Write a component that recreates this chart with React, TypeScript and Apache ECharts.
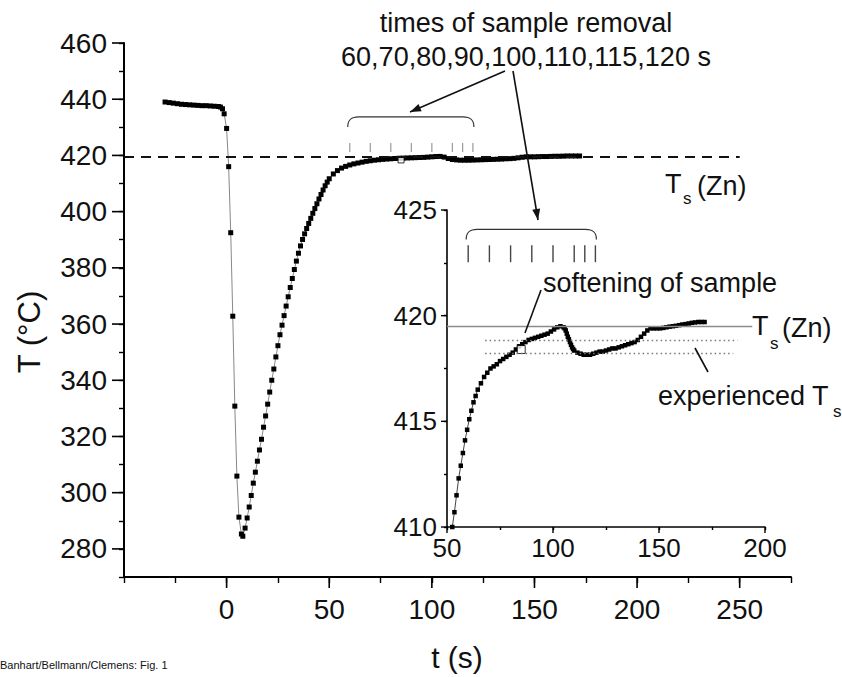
import React, { useEffect, useRef } from "react";
import * as echarts from "echarts";

const FONT = '"Liberation Sans", Arial, Helvetica, sans-serif';
const INK = "#111";

// solidus of zinc (°C)
const TS_ZN = 419.5;
// times of sample removal (s)
const removalTimes = [60, 70, 80, 90, 100, 110, 115, 120];
// "experienced Ts" band (°C) and its time spans (s)
const experiencedTs = [418.85, 418.2];
const experiencedStart = [68, 68];
const experiencedEnd = [187, 185];
// softening of sample
const softeningTime = [85];
const softeningTemp = [418.4];

// tick labels
const mainXLabels = [0, 50, 100, 150, 200, 250];
const mainYLabels = [280, 300, 320, 340, 360, 380, 400, 420, 440, 460];
const insetXLabels = [50, 100, 150, 200];
const insetYLabels = [410, 415, 420, 425];

// main curve: time (s)
const mainTime = [
  -30, -28, -26, -24, -22, -20, -18, -16, -14, -12, -10, -8, -6, -4, -3, -2, -1.2,
  0, 1, 2, 3, 4, 5, 6, 7.2, 7.9,
  9, 10, 11, 12, 13, 14, 15, 16, 17, 18, 19, 20, 21, 22, 23, 24, 25, 26,
  27, 28, 29, 30, 31, 32, 33, 34, 35, 36, 37, 38, 39, 40, 41, 42, 43, 44, 45, 46, 47, 48, 49, 50,
  52, 54, 56, 58, 60, 62, 64, 66, 68, 70, 72, 74, 76, 78, 80, 82, 84, 86, 88, 90,
  92, 94, 96, 98, 100, 102, 104, 106, 108, 110, 112, 114, 116, 118, 120, 122, 124, 126, 128, 130,
  132, 134, 136, 138, 140, 142, 144, 146, 148, 150, 152, 154, 156, 158, 160, 162, 164, 166, 168, 170, 172,
];
// main curve: temperature (°C)
const mainTemp = [
  439.0, 438.8, 438.6, 438.4, 438.2, 438.1, 438.0, 437.9, 437.8, 437.7, 437.7, 437.6, 437.5, 437.4, 437.2, 436.6, 434.8,
  429.6, 416.0, 392.5, 362.8, 330.8, 305.9, 291.3, 285.3, 284.5,
  287.4, 291.0, 294.9, 299.0, 303.4, 307.3, 311.2, 315.2, 319.0, 323.3, 327.3, 331.5, 335.8, 340.0, 344.0, 348.3, 352.3, 356.2,
  359.6, 363.0, 366.4, 369.7, 373.0, 376.2, 379.4, 382.4, 385.2, 387.8, 390.1, 392.1, 394.0, 395.8, 397.6, 399.4, 401.1, 402.8, 404.5, 406.1, 407.7, 409.2, 410.5, 411.7,
  413.4, 414.6, 415.5, 416.1, 416.6, 417.0, 417.3, 417.6, 417.9, 418.1, 418.3, 418.45, 418.6, 418.7, 418.8, 418.9, 419.0, 419.05, 419.1, 419.15,
  419.2, 419.25, 419.3, 419.4, 419.5, 419.6, 419.65, 419.4, 418.9, 418.55, 418.4, 418.3, 418.3, 418.3, 418.35, 418.4, 418.45, 418.5, 418.55, 418.6,
  418.65, 418.7, 418.8, 418.85, 418.95, 419.15, 419.35, 419.5, 419.5, 419.5, 419.55, 419.6, 419.6, 419.65, 419.7, 419.7, 419.75, 419.8, 419.8, 419.8, 419.8,
];

// inset curve: time (s)
const insetTime = [
  52.5, 53.5, 54.5, 55.5, 56.5, 57.5, 58.5, 59.5, 60.5, 61.5, 62.5, 63.5, 64.5,
  66, 67.5, 69, 70.5, 72, 73.5, 75, 76.5, 78, 79.5, 81, 82.5, 84, 85.5, 87, 88.5, 90, 91.5, 93, 94.5, 96, 97.5, 99, 100.5, 102, 103.5,
  105, 105.5, 106, 106.5, 107, 107.5, 108, 108.5, 109, 109.5, 110,
  111.5, 113, 114.5, 116, 117.5, 119, 120.5, 122, 123.5, 125, 126.5, 128, 129.5, 131, 132.5, 134, 135.5, 137, 138.5, 140,
  141.5, 143, 144.5, 146, 147.5, 149, 150.5, 152, 153.5, 155, 156.5, 158, 159.5, 161, 162.5, 164, 165.5, 167, 168.5, 170, 171.5,
];
// inset curve: temperature (°C)
const insetTemp = [
  410.0, 410.7, 411.5, 412.3, 412.9, 413.5, 414.1, 414.6, 415.1, 415.5, 415.9, 416.2, 416.5,
  416.8, 417.1, 417.3, 417.5, 417.6, 417.7, 417.85, 417.95, 418.05, 418.15, 418.25, 418.4, 418.55, 418.65, 418.75, 418.85, 418.9, 418.95, 419.0, 419.05, 419.1, 419.15, 419.25, 419.35, 419.45, 419.5,
  419.45, 419.4, 419.3, 419.15, 419.0, 418.88, 418.75, 418.62, 418.5, 418.42, 418.35,
  418.25, 418.2, 418.15, 418.15, 418.15, 418.2, 418.25, 418.3, 418.3, 418.35, 418.4, 418.45, 418.45, 418.5, 418.55, 418.6, 418.65, 418.7, 418.75, 418.85,
  419.0, 419.15, 419.3, 419.4, 419.4, 419.4, 419.4, 419.42, 419.45, 419.48, 419.5, 419.52, 419.55, 419.58, 419.6, 419.63, 419.66, 419.68, 419.7, 419.7, 419.7,
];

function txt(text: string, x: number, y: number, size: number, align = "left", extra: any = {}) {
  return {
    type: "text",
    z: 20,
    style: {
      text,
      x,
      y,
      font: `${size}px ${FONT}`,
      fill: INK,
      textAlign: align,
      textVerticalAlign: "middle",
    },
    ...extra,
  };
}

function arrow(x1: number, y1: number, x2: number, y2: number, head: boolean) {
  const out: any[] = [
    {
      type: "line",
      z: 20,
      shape: { x1, y1, x2, y2 },
      style: { stroke: INK, lineWidth: 1.6 },
    },
  ];
  if (head) {
    const dx = x2 - x1;
    const dy = y2 - y1;
    const len = Math.hypot(dx, dy);
    const ux = dx / len;
    const uy = dy / len;
    const L = 11;
    const W = 4;
    out.push({
      type: "polygon",
      z: 20,
      shape: {
        points: [
          [x2, y2],
          [x2 - ux * L - uy * W, y2 - uy * L + ux * W],
          [x2 - ux * L + uy * W, y2 - uy * L - ux * W],
        ],
      },
      style: { fill: INK },
    });
  }
  return out;
}

function tickSeries(
  gridIdx: number,
  values: number[],
  fixed: number,
  dir: "x" | "y",
  len: number,
  width: number
) {
  return {
    type: "custom",
    xAxisIndex: gridIdx,
    yAxisIndex: gridIdx,
    silent: true,
    z: 5,
    data: values.map((v) => (dir === "x" ? [v, fixed] : [fixed, v])),
    renderItem: (_p: any, api: any) => {
      const p = api.coord([api.value(0), api.value(1)]);
      const shape =
        dir === "x"
          ? { x1: p[0], y1: p[1], x2: p[0], y2: p[1] + len }
          : { x1: p[0], y1: p[1], x2: p[0] - len, y2: p[1] };
      return { type: "line", shape, style: { stroke: "#000", lineWidth: width } };
    },
  };
}

function removalSeries(gridIdx: number, top: number, bottom: number, color: string, width: number) {
  return {
    type: "custom",
    xAxisIndex: gridIdx,
    yAxisIndex: gridIdx,
    silent: true,
    data: removalTimes.map((t) => [t, top]),
    renderItem: (_p: any, api: any) => {
      const a = api.coord([api.value(0), top]);
      const b = api.coord([api.value(0), bottom]);
      return {
        type: "line",
        shape: { x1: a[0], y1: a[1], x2: b[0], y2: b[1] },
        style: { stroke: color, lineWidth: width },
      };
    },
  };
}

function braceSeries(gridIdx: number, level: number, drop: number) {
  return {
    type: "custom",
    xAxisIndex: gridIdx,
    yAxisIndex: gridIdx,
    silent: true,
    data: [[removalTimes[0], level, removalTimes[removalTimes.length - 1]]],
    renderItem: (_p: any, api: any) => {
      const a = api.coord([api.value(0), api.value(1)]);
      const c = api.coord([api.value(2), api.value(1)]);
      const x1 = a[0] - 2;
      const x2 = c[0] + 1;
      const yt = a[1];
      const yb = yt + drop;
      const r = 11;
      const d = `M${x1},${yb} C${x1},${yt + 3} ${x1 + 3},${yt} ${x1 + r},${yt} L${x2 - r},${yt} C${x2 - 3},${yt} ${x2},${yt + 3} ${x2},${yb}`;
      return {
        type: "path",
        shape: { pathData: d },
        style: { stroke: "#333", fill: "none", lineWidth: 1.2 },
      };
    },
  };
}

export default function App() {
  const ref = useRef<HTMLDivElement>(null);

  useEffect(() => {
    const el = ref.current;
    if (!el) return;
    const chart = echarts.init(el, undefined, { renderer: "svg" });

    const mainData = mainTime.map((t, i) => [t, mainTemp[i]]);
    const insetData = insetTime.map((t, i) => [t, insetTemp[i]]);
    const softData = softeningTime.map((t, i) => [t, softeningTemp[i]]);

    const labelStyle = (size: number, margin: number, keep: number[]) => ({
      show: true,
      fontSize: size,
      fontFamily: FONT,
      color: INK,
      margin,
      formatter: (v: number) => (keep.some((k) => Math.abs(k - v) < 1e-6) ? String(v) : ""),
    });

    const axisBase = (w: number, tickLen: number) => ({
      axisLine: { show: true, onZero: false, lineStyle: { color: "#000", width: w } },
      axisTick: { show: true, inside: false, length: tickLen, lineStyle: { color: "#000", width: 1.4 } },
      splitLine: { show: false },
    });

    const option: any = {
      animation: false,
      backgroundColor: "#fff",
      grid: [
        { left: 124, top: 43, width: 667, height: 534, containLabel: false },
        { left: 447, top: 210, width: 318, height: 317, containLabel: false },
      ],
      xAxis: [
        {
          type: "value",
          gridIndex: 0,
          min: -50,
          max: 275,
          interval: 25,
          ...axisBase(2, 6),
          axisLabel: labelStyle(28, 18, mainXLabels),
        },
        {
          type: "value",
          gridIndex: 1,
          min: 50,
          max: 200,
          interval: 25,
          ...axisBase(1.6, 3),
          axisLabel: labelStyle(26, 8, insetXLabels),
        },
      ],
      yAxis: [
        {
          type: "value",
          gridIndex: 0,
          min: 270,
          max: 460,
          interval: 10,
          ...axisBase(2, 5),
          axisLabel: labelStyle(28, 17, mainYLabels),
        },
        {
          type: "value",
          gridIndex: 1,
          min: 410,
          max: 425,
          interval: 2.5,
          ...axisBase(1.6, 3),
          axisLabel: labelStyle(26, 10, insetYLabels),
        },
      ],
      series: [
        tickSeries(0, mainXLabels, 270, "x", 11, 1.6),
        tickSeries(0, mainYLabels, -50, "y", 12, 1.6),
        tickSeries(1, insetXLabels, 410, "x", 6, 1.4),
        tickSeries(1, insetYLabels, 50, "y", 6, 1.4),
        {
          type: "line",
          name: "T",
          xAxisIndex: 0,
          yAxisIndex: 0,
          data: mainData,
          symbol: "rect",
          symbolSize: 5,
          showSymbol: true,
          showAllSymbol: true,
          itemStyle: { color: "#000" },
          lineStyle: { color: "#888", width: 1 },
          z: 3,
          markLine: {
            silent: true,
            symbol: ["none", "none"],
            label: { show: false },
            lineStyle: { color: INK, width: 2, type: [10, 7] },
            data: [[{ coord: [-50, TS_ZN] }, { coord: [250, TS_ZN] }]],
          },
        },
        {
          type: "scatter",
          xAxisIndex: 0,
          yAxisIndex: 0,
          data: softData,
          symbol: "rect",
          symbolSize: 6,
          itemStyle: { color: "#fff", borderColor: "#000", borderWidth: 1 },
          z: 4,
        },
        removalSeries(0, 424.4, 421.2, "#9a9a9a", 1.2),
        braceSeries(0, 433.7, 10),
        {
          type: "line",
          name: "T inset",
          xAxisIndex: 1,
          yAxisIndex: 1,
          data: insetData,
          symbol: "rect",
          symbolSize: 4.5,
          showSymbol: true,
          showAllSymbol: true,
          itemStyle: { color: "#000" },
          lineStyle: { color: "#444", width: 1 },
          z: 3,
          markLine: {
            silent: true,
            symbol: ["none", "none"],
            label: { show: false },
            data: [
              [
                { coord: [50, TS_ZN], lineStyle: { color: "#8c8c8c", width: 1.3, type: "solid" } },
                { coord: [194, TS_ZN] },
              ],
              ...experiencedTs.map((v, i) => [
                { coord: [experiencedStart[i], v], lineStyle: { color: "#777", width: 1.3, type: [1.5, 3] } },
                { coord: [experiencedEnd[i], v] },
              ]),
            ],
          },
        },
        {
          type: "scatter",
          xAxisIndex: 1,
          yAxisIndex: 1,
          data: softData,
          symbol: "rect",
          symbolSize: 8,
          itemStyle: { color: "#fff", borderColor: "#000", borderWidth: 1 },
          z: 4,
        },
        removalSeries(1, 423.33, 422.53, "#444", 1.4),
        braceSeries(1, 424.08, 10),
      ],
      graphic: [
        txt("times of sample removal", 526, 23, 27, "center"),
        txt("60,70,80,90,100,110,115,120 s", 526, 57, 27, "center"),
        ...arrow(505, 71, 410, 112, true),
        ...arrow(513, 71, 538, 220, true),
        // Ts main
        txt("T", 665, 184, 27),
        txt("s", 683, 198, 17),
        txt("(Zn)", 697, 186, 27),
        // inset Ts
        txt("T", 752, 326, 27),
        txt("s", 770, 343, 17),
        txt("(Zn)", 782, 328, 27),
        txt("softening of sample", 543, 283, 27),
        ...arrow(541, 290, 525, 333, false),
        txt("experienced T", 658, 396, 27),
        txt("s", 833, 411, 17),
        ...arrow(708, 372, 695, 348, false),
        {
          type: "text",
          z: 20,
          x: 29,
          y: 332,
          rotation: Math.PI / 2,
          style: {
            text: "T (°C)",
            x: 0,
            y: 0,
            font: `31px ${FONT}`,
            fill: INK,
            textAlign: "center",
            textVerticalAlign: "middle",
          },
        },
        txt("t (s)", 457, 657, 30, "center"),
        txt("Banhart/Bellmann/Clemens: Fig. 1", 0, 665, 11, "left", {}),
      ],
    };

    chart.setOption(option);
    return () => chart.dispose();
  }, []);

  return (
    <div
      ref={ref}
      style={{ position: "fixed", left: 0, top: 0, width: 842, height: 677, background: "#fff" }}
    />
  );
}
